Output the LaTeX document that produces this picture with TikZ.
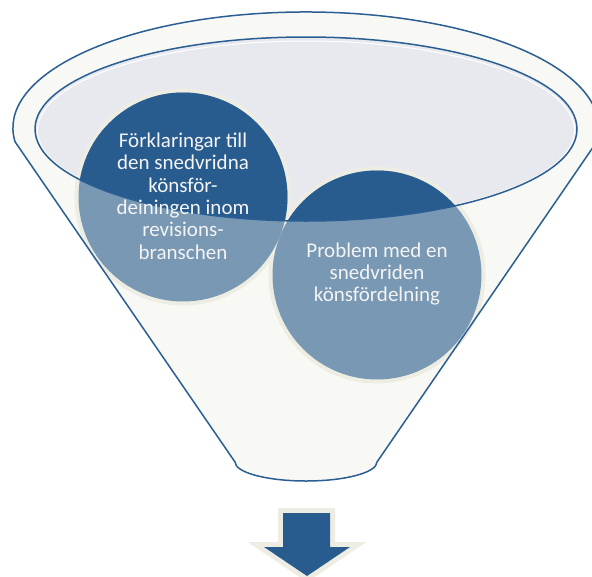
\documentclass[tikz,border=0pt]{standalone}
\usepackage{fontspec}
\setmainfont{Carlito}
\definecolor{edge}{HTML}{2B5E93}
\definecolor{body}{HTML}{F8F8F4}
\definecolor{opening}{HTML}{E8E9EE}
\definecolor{ring}{HTML}{EDEDE4}
\definecolor{darkblue}{HTML}{285C8F}
\definecolor{lightblue}{HTML}{7898B3}
\definecolor{txt}{HTML}{F4F4F4}
\tikzset{
  outline/.style={draw=edge, line width=1.5pt, line join=round},
  circtext/.style={text=txt, align=center, font=\fontsize{21}{22.4}\selectfont, inner sep=0pt}
}
\begin{document}
\begin{tikzpicture}[x=1pt,y=-1pt]
\clip (0,0) rectangle (592,576);
\fill[white] (0,0) rectangle (592,576);
% funnel body
\path[fill=body] (235,462) -- (15,141.7)
  arc[start angle=173.2, end angle=366.8, x radius=293, y radius=116]
  -- (377,462)
  arc[start angle=0, end angle=180, x radius=71, y radius=19] -- cycle;
% opening
\fill[opening] (306,129) ellipse[x radius=271, y radius=92];
\draw[white, line width=1pt] (306,130.5) ellipse[x radius=268.5, y radius=89.5];
% circles, light everywhere
\fill[ring] (183,197) circle[radius=108.5];
\fill[ring] (377,275) circle[radius=108.5];
\fill[lightblue] (183,197) circle[radius=104.5];
\fill[lightblue] (377,275) circle[radius=104.5];
% dark inside the opening
\begin{scope}
  \clip (306,129) ellipse[x radius=271, y radius=92];
  \fill[darkblue] (183,197) circle[radius=104.5];
  \fill[darkblue] (377,275) circle[radius=104.5];
\end{scope}
% outlines
\draw[outline] (306,129) ellipse[x radius=271, y radius=92];
\draw[outline] (235,462) -- (15,141.7)
  arc[start angle=173.2, end angle=366.8, x radius=293, y radius=116]
  -- (377,462)
  arc[start angle=0, end angle=180, x radius=71, y radius=19] -- cycle;
% texts
\node[circtext] (t1) at (183,196) {Förklaringar till\\den snedvridna\\könsför-\\deiningen inom\\revisions-\\branschen};
\node[circtext] (t2) at (377,274) {Problem med en\\snedvriden\\könsfördelning};
% arrow
\draw[ring, line width=10pt, miter limit=10] (283,513) -- (330,513) -- (330,547) -- (350,547) -- (307,576) -- (264,547) -- (283,547) -- cycle;
\fill[darkblue] (283,513) -- (330,513) -- (330,547) -- (350,547) -- (307,576) -- (264,547) -- (283,547) -- cycle;
\end{tikzpicture}
\end{document}
